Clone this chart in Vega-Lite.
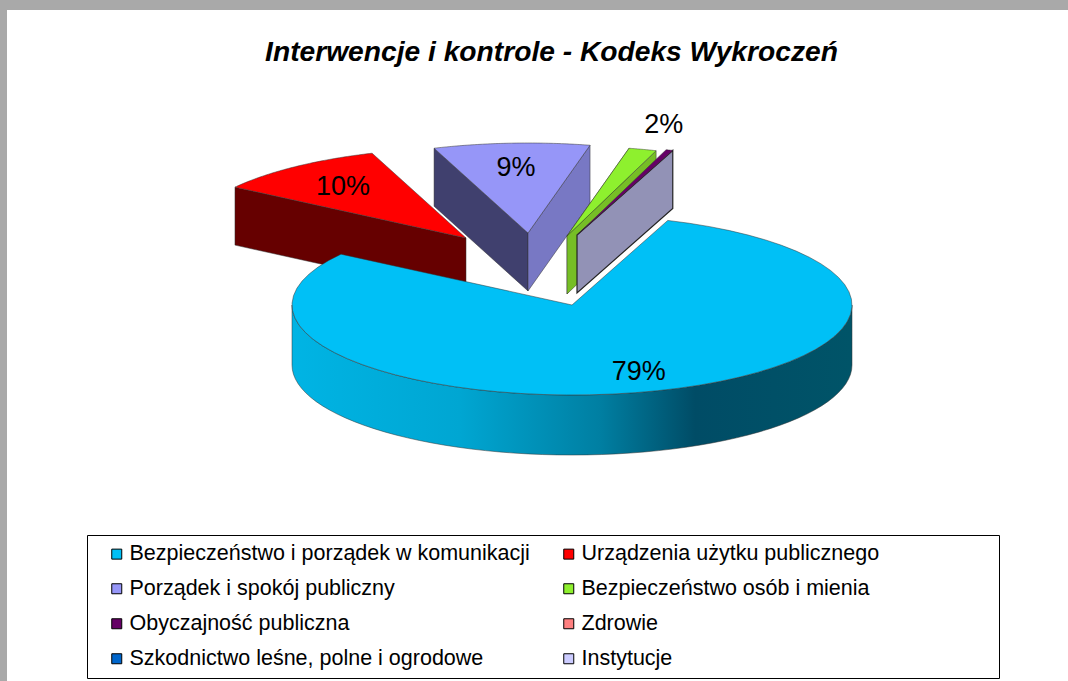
{
"$schema":"https://vega.github.io/schema/vega-lite/v6.json",
"width":1061,"height":671,
"autosize":{"type":"none"},
"padding":{"left":7,"top":10,"right":0,"bottom":0},
"background":"#a9a9a9",
"config":{"view":{"fill":"white","stroke":null},"font":"Liberation Sans"},
"title":{"text":"Interwencje i kontrole - Kodeks Wykroczeń","font":"Liberation Sans","fontSize":28.2,"fontStyle":"italic","fontWeight":"bold","color":"#000","anchor":"middle","dx":14,"offset":-57},
"data":{"values":[
{"name":"Bezpieczeństwo i porządek w komunikacji","value":79},
{"name":"Urządzenia użytku publicznego","value":10},
{"name":"Porządek i spokój publiczny","value":9},
{"name":"Bezpieczeństwo osób i mienia","value":1.6},
{"name":"Obyczajność publiczna","value":0.4},
{"name":"Zdrowie","value":0},
{"name":"Szkodnictwo leśne, polne i ogrodowe","value":0},
{"name":"Instytucje","value":0}
]},
"transform":[
{"stack":"value","groupby":[],"as":["s0","s1"]},
{"calculate":"20+3.6*datum.s0","as":"a0"},
{"calculate":"20+3.6*datum.s1","as":"a1"},
{"calculate":"({'Urządzenia użytku publicznego':-106,'Porządek i spokój publiczny':-44,'Bezpieczeństwo osób i mienia':-5,'Obyczajność publiczna':5}[datum.name]||0)/280","as":"ox"},
{"calculate":"({'Urządzenia użytku publicznego':-67,'Porządek i spokój publiczny':-72,'Bezpieczeństwo osób i mienia':-69,'Obyczajność publiczna':-70}[datum.name]||0)/90","as":"oy"},
{"calculate":"sequence(0,4)","as":"q"},
{"flatten":["q"]},
{"calculate":"datum.q==1||datum.q==2?1:0","as":"r"},
{"calculate":"datum.q>=2?0.644:0","as":"d"}
],
"layer":[
{"transform":[{"filter":"datum.name==='Urządzenia użytku publicznego'"},{"calculate":"datum.ox+datum.r*sin(datum.a0*PI/180)","as":"fx"},{"calculate":"datum.oy-datum.r*cos(datum.a0*PI/180)+datum.d","as":"fy"}],
 "mark":{"type":"line","interpolate":"linear-closed","fill":"#660000","stroke":"#333","strokeWidth":0.5},
 "encoding":{"x":{"field":"fx","type":"quantitative","axis":null,"scale":{"domain":[-2.0179,1.7714],"nice":false,"zero":false}},"y":{"field":"fy","type":"quantitative","axis":null,"scale":{"domain":[4.1778,-3.2778],"nice":false,"zero":false}},"order":{"field":"q","type":"quantitative"}}},
{"transform":[{"filter":"datum.name==='Porządek i spokój publiczny'"},{"calculate":"datum.ox+datum.r*sin(datum.a0*PI/180)","as":"fx"},{"calculate":"datum.oy-datum.r*cos(datum.a0*PI/180)+datum.d","as":"fy"}],
 "mark":{"type":"line","interpolate":"linear-closed","fill":"#40406E","stroke":"#333","strokeWidth":0.5},
 "encoding":{"x":{"field":"fx","type":"quantitative"},"y":{"field":"fy","type":"quantitative"},"order":{"field":"q","type":"quantitative"}}},
{"transform":[{"filter":"datum.name==='Porządek i spokój publiczny'"},{"calculate":"datum.ox+datum.r*sin(datum.a1*PI/180)","as":"fx"},{"calculate":"datum.oy-datum.r*cos(datum.a1*PI/180)+datum.d","as":"fy"}],
 "mark":{"type":"line","interpolate":"linear-closed","fill":"#7878C4","stroke":"#333","strokeWidth":0.5},
 "encoding":{"x":{"field":"fx","type":"quantitative"},"y":{"field":"fy","type":"quantitative"},"order":{"field":"q","type":"quantitative"}}},
{"transform":[{"filter":"datum.name==='Bezpieczeństwo osób i mienia'"},{"calculate":"datum.ox+datum.r*sin(datum.a0*PI/180)","as":"fx"},{"calculate":"datum.oy-datum.r*cos(datum.a0*PI/180)+datum.d","as":"fy"}],
 "mark":{"type":"line","interpolate":"linear-closed","fill":"#76BE26","stroke":"#333","strokeWidth":0.5},
 "encoding":{"x":{"field":"fx","type":"quantitative"},"y":{"field":"fy","type":"quantitative"},"order":{"field":"q","type":"quantitative"}}},
{"transform":[{"filter":"datum.name==='Bezpieczeństwo osób i mienia'"},{"calculate":"datum.ox+datum.r*sin(datum.a1*PI/180)","as":"fx"},{"calculate":"datum.oy-datum.r*cos(datum.a1*PI/180)+datum.d","as":"fy"}],
 "mark":{"type":"line","interpolate":"linear-closed","fill":"#76BE26","stroke":"#333","strokeWidth":0.5},
 "encoding":{"x":{"field":"fx","type":"quantitative"},"y":{"field":"fy","type":"quantitative"},"order":{"field":"q","type":"quantitative"}}},
{"transform":[{"filter":"datum.name==='Obyczajność publiczna'"},{"calculate":"datum.ox+datum.r*sin(datum.a1*PI/180)","as":"fx"},{"calculate":"datum.oy-datum.r*cos(datum.a1*PI/180)+datum.d","as":"fy"}],
 "mark":{"type":"line","interpolate":"linear-closed","fill":"#9292B6","stroke":"#222","strokeWidth":1.2},
 "encoding":{"x":{"field":"fx","type":"quantitative"},"y":{"field":"fy","type":"quantitative"},"order":{"field":"q","type":"quantitative"}}},
{"transform":[{"filter":"datum.name==='Bezpieczeństwo i porządek w komunikacji'&&datum.q==0"},{"calculate":"sequence(0,122)","as":"p"},{"flatten":["p"]},{"calculate":"datum.p<=60?90+3*datum.p:270-3*(datum.p-61)","as":"ang"},{"calculate":"sin(datum.ang*PI/180)","as":"fx"},{"calculate":"-cos(datum.ang*PI/180)+(datum.p>60?0.667:0)","as":"fy"}],
 "mark":{"type":"line","interpolate":"linear-closed","stroke":"#333","strokeWidth":0.5,"fill":{"gradient":"linear","x1":0,"y1":0,"x2":1,"y2":0,"stops":[{"offset":0,"color":"#00B4E4"},{"offset":0.3,"color":"#00A6D2"},{"offset":0.55,"color":"#007FA2"},{"offset":0.72,"color":"#004C66"},{"offset":1,"color":"#005468"}]}},
 "encoding":{"x":{"field":"fx","type":"quantitative"},"y":{"field":"fy","type":"quantitative"},"order":{"field":"p","type":"quantitative"}}},
{"transform":[{"filter":"datum.value>0&&datum.q==0"},{"calculate":"sequence(0,62)","as":"p"},{"flatten":["p"]},{"calculate":"datum.a0+(datum.a1-datum.a0)*datum.p/60","as":"ang"},{"calculate":"datum.ox+(datum.p<=60?sin(datum.ang*PI/180):0)","as":"fx"},{"calculate":"datum.oy-(datum.p<=60?cos(datum.ang*PI/180):0)","as":"fy"}],
 "mark":{"type":"line","interpolate":"linear-closed","stroke":"#333","strokeWidth":0.5},
 "encoding":{"x":{"field":"fx","type":"quantitative"},"y":{"field":"fy","type":"quantitative"},"order":{"field":"p","type":"quantitative"},
 "fill":{"field":"name","type":"nominal","scale":{"domain":["Bezpieczeństwo i porządek w komunikacji","Porządek i spokój publiczny","Obyczajność publiczna","Szkodnictwo leśne, polne i ogrodowe","Urządzenia użytku publicznego","Bezpieczeństwo osób i mienia","Zdrowie","Instytucje"],"range":["#00C0F6","#9696F8","#660066","#0066CC","#FF0000","#8EF02E","#FF8080","#CCCCFF"]},
 "legend":{"title":"\u00a0","titleOrient":"right","titlePadding":112,"titleFontSize":10,"orient":"none","legendX":80,"legendY":525,"columns":2,"gridAlign":"each","columnPadding":17,"rowPadding":12,"padding":8,"strokeColor":"#000","fillColor":"#fff","symbolType":"square","symbolSize":100,"symbolStrokeColor":"#000","symbolStrokeWidth":1,"symbolOffset":11,"labelFont":"Liberation Sans","labelFontSize":21.5,"labelColor":"#000","labelLimit":700,"labelOffset":2}},
 "detail":{"field":"name"}}},
{"transform":[{"filter":"datum.value>=1&&datum.q==0"},{"calculate":"(datum.a0+datum.a1)/2","as":"mid"},{"calculate":"datum.value<2?1.28:(datum.value>50?0.78:0.72)","as":"f"},{"calculate":"datum.ox+datum.f*sin(datum.mid*PI/180)","as":"fx"},{"calculate":"datum.oy-datum.f*cos(datum.mid*PI/180)","as":"fy"},{"calculate":"format(datum.value/100,'.0%')","as":"lab"}],
 "mark":{"type":"text","font":"Liberation Sans","fontSize":27,"color":"#000","align":"center","baseline":"middle"},
 "encoding":{"x":{"field":"fx","type":"quantitative"},"y":{"field":"fy","type":"quantitative"},"text":{"field":"lab"}}}
]
}
